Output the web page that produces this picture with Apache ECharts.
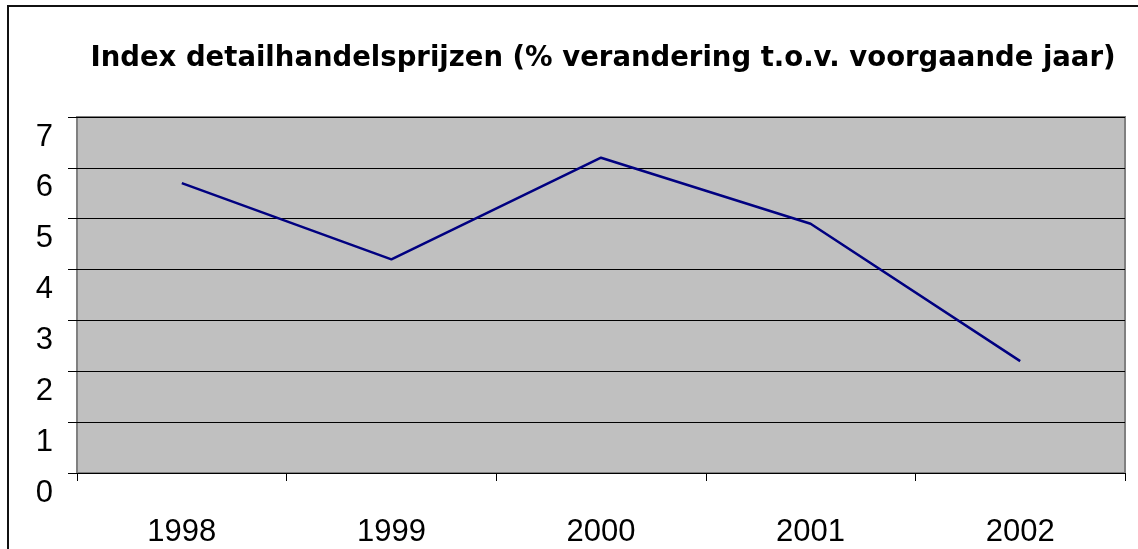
<!DOCTYPE html>
<html>
<head>
<meta charset="utf-8">
<script src="https://cdn.jsdelivr.net/npm/echarts@6/dist/echarts.min.js"></script>
<style>
  html, body { margin: 0; padding: 0; background: #fff; }
  #chart { width: 1138px; height: 549px; }
</style>
</head>
<body>
<div id="chart"></div>
<script>
const titleText = 'Index detailhandelsprijzen (% verandering t.o.v. voorgaande jaar)';
const years = ['1998', '1999', '2000', '2001', '2002'];
const values = [5.7, 4.2, 6.2, 4.9, 2.2];
const yMin = 0;
const yMax = 7;
const yStep = 1;

const chart = echarts.init(document.getElementById('chart'), null, { renderer: 'canvas' });
const FONT = '"Liberation Sans", Arial, sans-serif';

chart.setOption({
  animation: false,
  backgroundColor: '#ffffff',
  title: {
    text: titleText,
    left: 598,
    top: 40,
    textAlign: 'center',
    textStyle: { fontFamily: '"DejaVu Sans", sans-serif', fontSize: 27.5, fontWeight: 'bold', color: '#000' }
  },
  graphic: [{
    type: 'rect',
    shape: { x: 8, y: 6, width: 1200, height: 700 },
    style: { fill: null, stroke: '#111', lineWidth: 2 },
    z: 100
  }],
  grid: {
    left: 77, right: 13, top: 117, bottom: 76,
    show: true,
    backgroundColor: '#c0c0c0',
    borderColor: '#808080',
    borderWidth: 2,
    containLabel: false
  },
  xAxis: {
    type: 'category',
    data: years,
    boundaryGap: true,
    axisLine: { show: false },
    axisTick: { show: true, length: 8, lineStyle: { color: '#000', width: 1 } },
    axisLabel: { margin: 44, fontFamily: FONT, fontSize: 31, color: '#000' },
    splitLine: { show: false }
  },
  yAxis: {
    type: 'value',
    min: yMin, max: yMax, interval: yStep,
    axisLine: { show: false },
    axisTick: { show: true, length: 9, lineStyle: { color: '#000', width: 1 } },
    axisLabel: {
      margin: 24, fontFamily: FONT, fontSize: 31, color: '#000',
      verticalAlign: 'top', lineHeight: 40
    },
    splitLine: { show: true, lineStyle: { color: '#000', width: 1 } }
  },
  series: [{
    type: 'line',
    data: values,
    symbol: 'none',
    lineStyle: { color: '#000080', width: 2.5 },
    z: 10
  }]
});
</script>
</body>
</html>
